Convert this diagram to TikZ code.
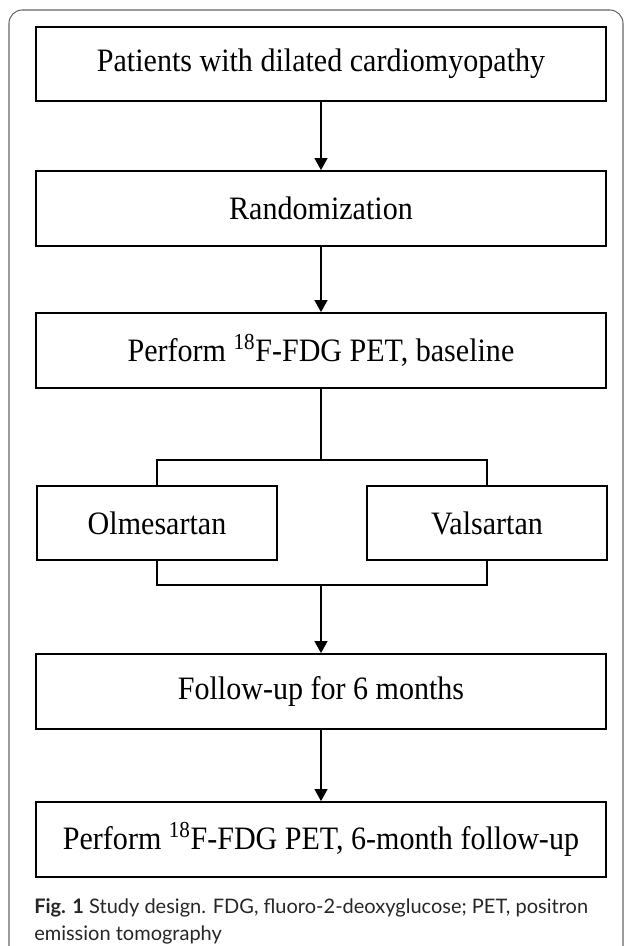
\documentclass[tikz,border=0pt]{standalone}
\usepackage{fontspec}
\setmainfont{Liberation Serif}[FakeStretch=0.92]
\newfontfamily\capfont{Lato}
\usepackage{xcolor}
\colorlet{colFrame}{black!60}
\colorlet{colCaption}{black!85}
\usetikzlibrary{arrows.meta, positioning}

\begin{document}
\begin{tikzpicture}[
    x=0.75pt, y=-0.75pt,
    >={Triangle[length=9pt, width=9.5pt]},
    box/.style={draw, line width=1.5pt, minimum width=427.5pt, minimum height=56pt,
        inner sep=0pt, font=\fontsize{24.5}{28}\selectfont},
    halfbox/.style={box, minimum width=180pt},
    link/.style={line width=1.5pt}
]
\useasboundingbox (0,0) rectangle (627,946);

% outer frame, open at the bottom
\draw[colFrame, line width=0.8pt, rounded corners=10pt]
    (9,980) -- (9,10) -- (623,10) -- (623,980);

% flow boxes
\node[box] (patients) at (321,64) {Patients with dilated cardiomyopathy};
\node[box] (random) at (321,208.5) {Randomization};
\node[box] (petBase) at (321,350.5) {Perform \textsuperscript{18}F-FDG PET, baseline};
\node[halfbox] (olme) at (157,523) {Olmesartan};
\node[halfbox] (vals) at (487,523) {Valsartan};
\node[box] (follow) at (321,691.5) {Follow-up for 6 months};
\node[box] (petFollow) at (321,839.5) {Perform \textsuperscript{18}F-FDG PET, 6-month follow-up};

\coordinate (split) at (321,460);
\coordinate (join) at (321,585);

\draw[link, ->] (patients.south) -- (random.north);
\draw[link, ->] (random.south) -- (petBase.north);
\draw[link] (petBase.south) -- (split);
\draw[link] (olme.north) |- (split) -| (vals.north);
\draw[link] (olme.south) |- (join) -| (vals.south);
\draw[link, ->] (join) -- (follow.north);
\draw[link, ->] (follow.south) -- (petFollow.north);

% caption
\node[anchor=base west, align=left, inner sep=0pt, text=colCaption,
    font=\capfont\fontsize{15}{20.25}\selectfont]
    (caption) at (34,940)
    {\textbf{Fig. 1} Study design. FDG, fluoro-2-deoxyglucose; PET, positron\\emission tomography};
\end{tikzpicture}
\end{document}
